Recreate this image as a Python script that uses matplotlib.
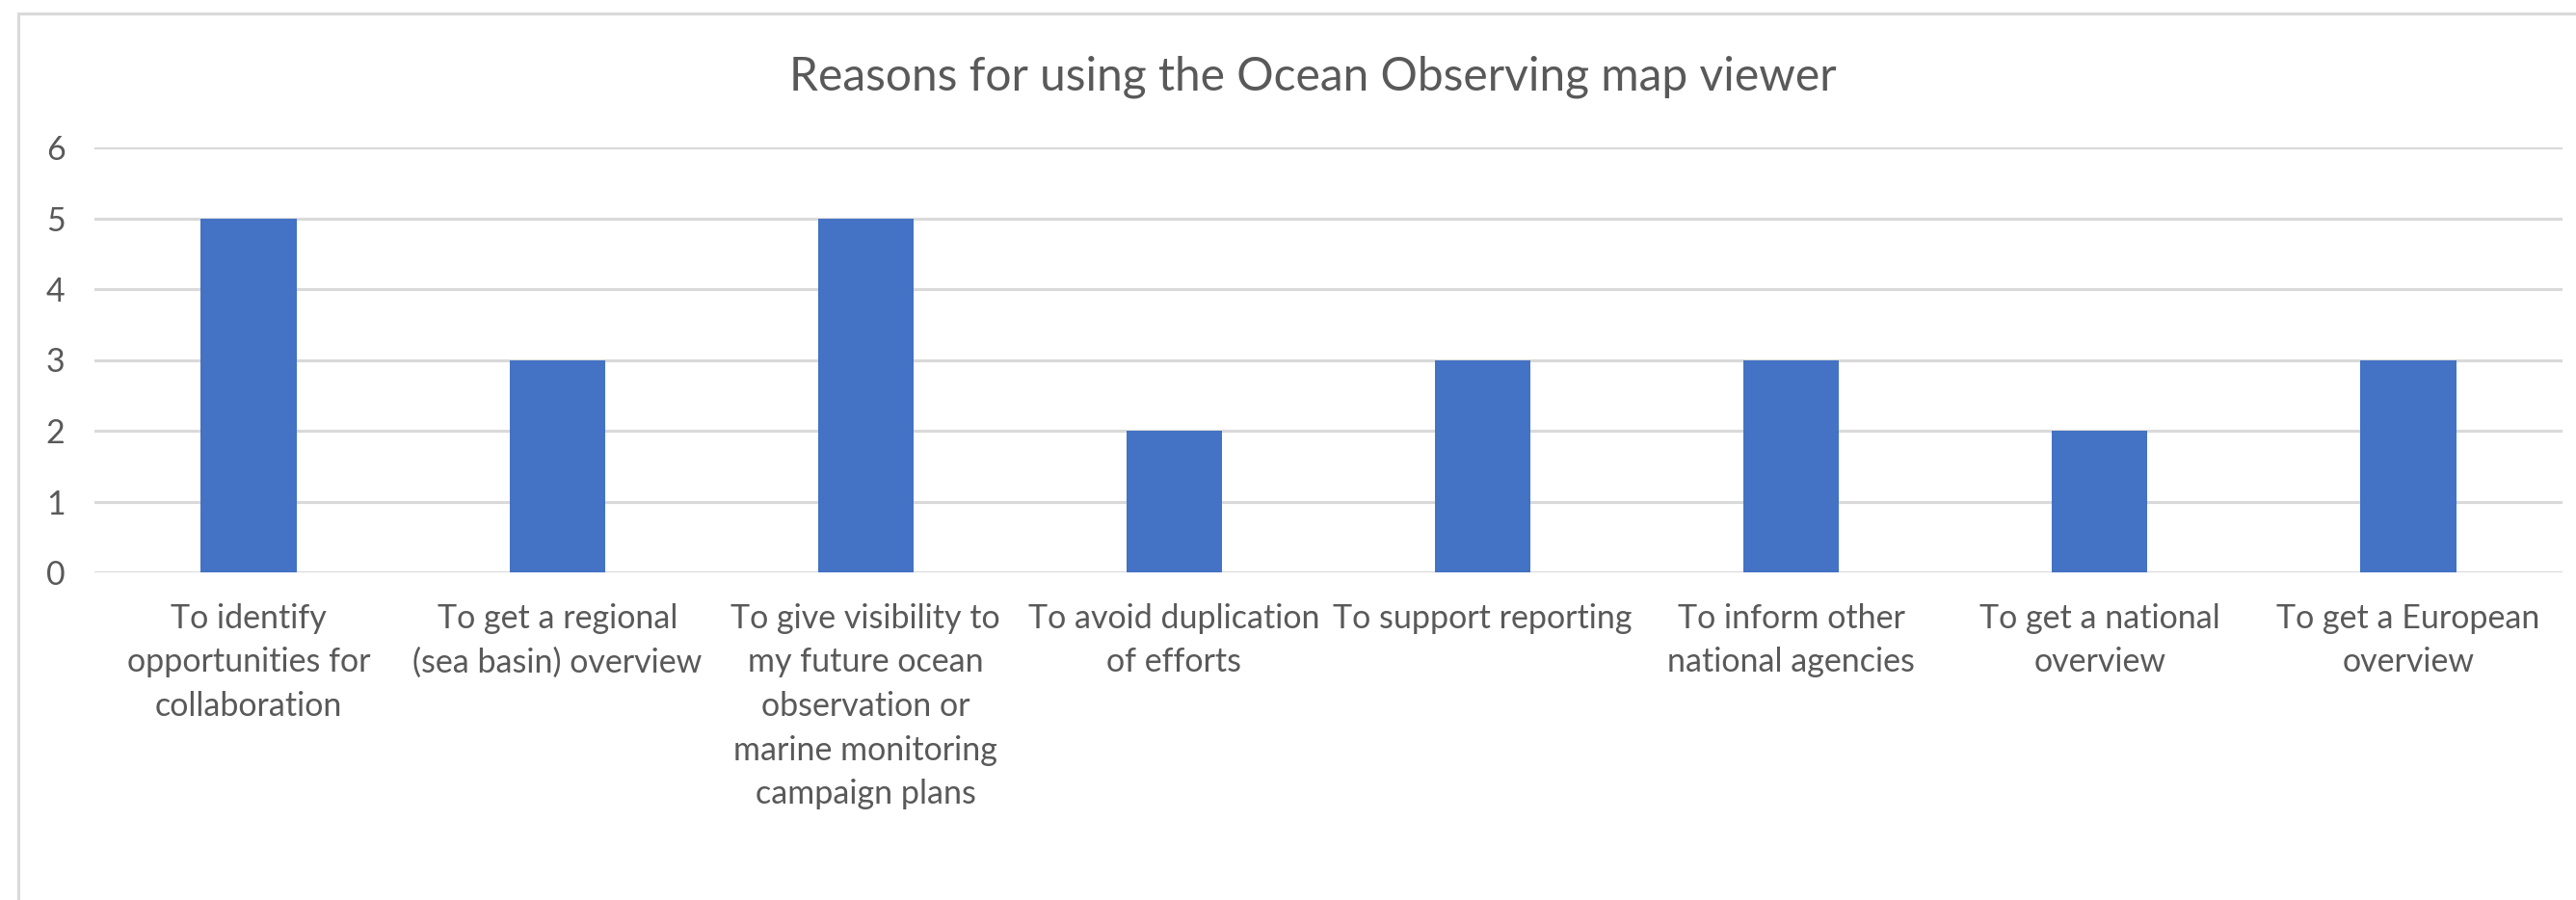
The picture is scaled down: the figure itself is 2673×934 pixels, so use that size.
import matplotlib
matplotlib.use("Agg")
import matplotlib.pyplot as plt
from matplotlib.patches import Rectangle

categories = [
    "To identify\nopportunities for\ncollaboration",
    "To get a regional\n(sea basin) overview",
    "To give visibility to\nmy future ocean\nobservation or\nmarine monitoring\ncampaign plans",
    "To avoid duplication\nof efforts",
    "To support reporting",
    "To inform other\nnational agencies",
    "To get a national\noverview",
    "To get a European\noverview",
]
values = [5, 3, 5, 2, 3, 3, 2, 3]
yticks = [0, 1, 2, 3, 4, 5, 6]
title = "Reasons for using the Ocean Observing map viewer"

W, H, DPI = 2673, 934, 100
plt.rcParams['font.family'] = ['Lato', 'DejaVu Sans']
TXT = '#595959'
GRID = '#d9d9d9'
BAR = '#4472C4'

fig = plt.figure(figsize=(W / DPI, H / DPI), dpi=DPI)
fig.patch.set_facecolor('white')

# chart border
fig.patches.append(Rectangle((19 / W, -0.1), 1.2, (934 - 14) / H + 0.1,
                             transform=fig.transFigure, fill=False,
                             edgecolor=GRID, linewidth=2.2))

x0, x1 = 98, 2659
y_top, y_bot = 153, 594
ax = fig.add_axes([x0 / W, (H - y_bot) / H, (x1 - x0) / W, (y_bot - y_top) / H])
ax.set_facecolor('none')

xs = list(range(len(categories)))
ax.bar(xs, values, width=0.31, color=BAR, zorder=3)
ax.set_xlim(-0.5, len(categories) - 0.5)
ax.set_ylim(0, 6)
ax.set_yticks(yticks)
ax.set_yticklabels([str(t) for t in yticks])
ax.grid(axis='y', color=GRID, linewidth=2.2, zorder=0)
ax.set_axisbelow(True)
for s in ax.spines.values():
    s.set_visible(False)
ax.tick_params(axis='both', length=0, labelsize=24.5, labelcolor=TXT)
ax.tick_params(axis='y', pad=22)
ax.tick_params(axis='x', pad=23)
ax.set_xticks(xs)
ax.set_xticklabels(categories, linespacing=1.52, va='top', ha='center')

fig.text((x0 + x1) / 2 / W - 0.006, (H - 80) / H, title, ha='center', va='center',
         fontsize=34.5, color=TXT)

fig.savefig("out.png", dpi=DPI, facecolor='white')
